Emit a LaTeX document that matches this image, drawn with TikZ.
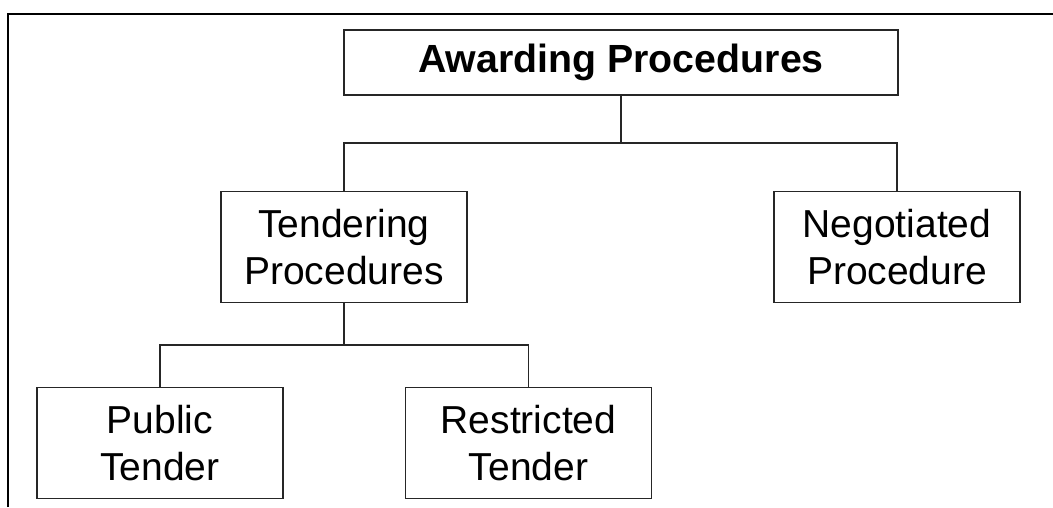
\documentclass[tikz,border=0pt]{standalone}
\usepackage{fontspec}
\setmainfont{Liberation Sans}
\begin{document}
\begin{tikzpicture}[x=1pt,y=-1pt,
  box/.style={draw=black!85,line width=1.5pt,fill=white,align=center,
    inner sep=0pt,minimum width=246pt,minimum height=111pt,
    font=\fontsize{39}{47}\selectfont},
  topbox/.style={box,minimum width=554pt,minimum height=65pt,
    font=\fontsize{39.3}{47}\selectfont\bfseries},
  link/.style={draw=black!85,line width=1.5pt}]
\useasboundingbox (0,0) rectangle (1053,507);
% open frame: top and left edges
\draw[line width=2.2pt] (8,507) -- (8,14) -- (1053,14);
% nodes
\node[topbox] (award) at (621,62.5) {Awarding Procedures};
\node[box] (tend) at (344,247) {Tendering\\Procedures};
\node[box] (nego) at (897,247) {Negotiated\\Procedure};
\node[box] (pub) at (160,443) {Public\\Tender};
\node[box] (res) at (528.5,443) {Restricted\\Tender};
% junctions
\coordinate (j1) at (621,143);
\coordinate (j2) at (344,345);
% connectors
\draw[link] (award.south) -- (j1);
\draw[link] (j1) -| (tend.north);
\draw[link] (j1) -| (nego.north);
\draw[link] (tend.south) -- (j2);
\draw[link] (j2) -| (pub.north);
\draw[link] (j2) -| (res.north);
\end{tikzpicture}
\end{document}
